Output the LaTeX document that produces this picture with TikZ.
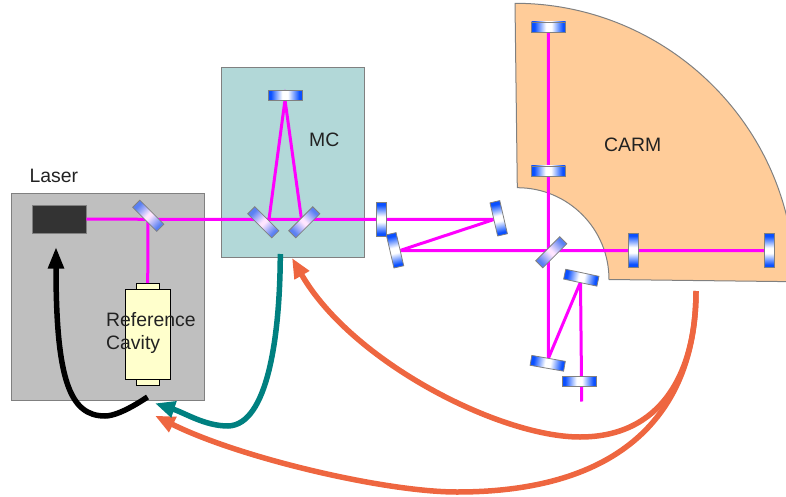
\documentclass[tikz,border=0pt]{standalone}
\usepackage{fontspec}
\setmainfont{Liberation Sans}
\usetikzlibrary{arrows.meta}
\definecolor{beamc}{HTML}{FF00FF}
\definecolor{mcfill}{HTML}{B2D8D8}
\definecolor{laserfill}{HTML}{BFBFBF}
\definecolor{carmfill}{HTML}{FFCC99}
\definecolor{edgec}{HTML}{808080}
\definecolor{mirblue}{HTML}{0A50FF}
\definecolor{bsblue}{HTML}{5A80F2}
\definecolor{cavfill}{HTML}{FFFFCC}
\definecolor{fbteal}{HTML}{008080}
\definecolor{fborange}{HTML}{EE6640}
\definecolor{txt}{HTML}{222222}
\pgfdeclarehorizontalshading{mirrorshade}{100bp}{color(0bp)=(mirblue);color(25bp)=(mirblue);color(29bp)=(mirblue);color(46bp)=(white);color(54bp)=(white);color(71bp)=(mirblue);color(75bp)=(mirblue);color(100bp)=(mirblue)}
\pgfdeclarehorizontalshading{splittershade}{100bp}{color(0bp)=(bsblue);color(25bp)=(bsblue);color(29bp)=(bsblue);color(48bp)=(white!90!magenta);color(52bp)=(white!90!magenta);color(71bp)=(bsblue);color(75bp)=(bsblue);color(100bp)=(bsblue)}
\tikzset{
  panel/.style={draw=edgec,line width=1pt},
  beam/.style={draw=beamc,line width=3pt},
  mirror/.style={draw=edgec,line width=.8pt,minimum width=34pt,minimum height=10pt,inner sep=0pt,outer sep=0pt,
    shading=mirrorshade},
  splitter/.style={draw=edgec,line width=.8pt,minimum width=34pt,minimum height=10pt,inner sep=0pt,outer sep=0pt,
    shading=splittershade},
  label/.style={text=txt,font=\fontsize{19.4}{22}\selectfont,inner sep=0pt,anchor=base west},
  cavpart/.style={draw=black,line width=.8pt,fill=cavfill},
  fbk/.style={line width=5.5pt,line cap=butt},
  headc/.style={-{Triangle[length=20pt,width=16pt]}},
}
% name, style, angle, position: the canvas turns, so the shading turns with the optic
\newcommand{\opticnode}[4]{\begin{scope}[transform canvas={shift={(#4)},rotate=#3}]\node[#2] (#1) at (0,0) {};\end{scope}}
\begin{document}
\begin{tikzpicture}[x=1pt,y=-1pt]
\useasboundingbox (0,0) rectangle (786,497);
\begin{scope}
\clip (0,0) rectangle (786,497);
% panels
\path[panel,fill=laserfill] (11,193.5) rectangle (204.5,400.5);
\path[panel,fill=mcfill] (221.5,67.5) rectangle (364.5,257);
\path[panel,fill=carmfill] (515,3.3) .. controls (668,3.3) and (794.5,128) .. (794.5,281.7)
  -- (609,279.5) .. controls (609,228.7) and (568,187.7) .. (517.3,187.7) -- cycle;
% laser head and cavity
\node[draw=edgec,line width=.8pt,fill=black!80,minimum width=54pt,minimum height=28pt,inner sep=0pt] (laser) at (59,219) {};
\node[cavpart,minimum width=22.7pt,minimum height=6pt,inner sep=0pt] (captop) at (147.7,286.5) {};
\node[cavpart,minimum width=22.7pt,minimum height=6pt,inner sep=0pt] (capbot) at (147.7,382) {};
\node[cavpart,minimum width=45pt,minimum height=90pt,inner sep=0pt] (cavity) at (147.8,334.3) {};
% beam points
\coordinate (bLS) at (148,219.3);
\coordinate (bM1) at (269,219.3);
\coordinate (bM2) at (301.5,219.3);
\coordinate (bMT) at (285,100);
\coordinate (bA) at (381,219.3);
\coordinate (bB) at (494,219.5);
\coordinate (bC) at (400,250.5);
\coordinate (bS) at (548,250.5);
\coordinate (bE) at (769,250.5);
\coordinate (bN) at (548.3,27);
\coordinate (bD) at (548.3,358.5);
\coordinate (bF) at (580.5,282);
\coordinate (bG) at (581.7,401.5);
\draw[beam] (laser.east) -- (bLS) -- (bM1) -- (bM2) -- (bA) -- (bB) -- (bC) -- (bS) -- (bE);
\draw[beam] (bLS) -- (captop.north);
\draw[beam] (bM1) -- (bMT) -- (bM2);
\draw[beam] (bN) -- (bD) -- (bF);
\draw[beam] (bF) -- (bG);
% mirrors
\opticnode{bsL}{splitter}{-45}{148.3,215.8}
\opticnode{bsM1}{splitter}{-45}{263.3,222.3}
\opticnode{bsM2}{splitter}{45}{304.3,222.3}
\opticnode{bsC}{splitter}{45}{551.3,252.3}
\opticnode{mMT}{mirror}{0}{285,95.5}
\opticnode{mA}{mirror}{90}{381,219.3}
\opticnode{mB}{mirror}{-77}{498.7,218.3}
\opticnode{mC}{mirror}{-77}{395,250.3}
\opticnode{mN1}{mirror}{0}{548.7,27}
\opticnode{mN2}{mirror}{0}{548.3,171}
\opticnode{mE1}{mirror}{90}{633,250}
\opticnode{mE2}{mirror}{90}{769.3,250.5}
\opticnode{mS1}{mirror}{-12}{581.3,277.7}
\opticnode{mS2}{mirror}{-10}{547.7,363.3}
\opticnode{mS3}{mirror}{0}{579.3,381.7}
% labels
\node[label] (tLaser) at (29.3,182.7) {Laser};
\node[label] (tRef) at (106,326.7) {Reference};
\node[label] (tCav) at (106,349) {Cavity};
\node[label] (tMC) at (309,147) {MC};
\node[label] (tCARM) at (604,151.7) {CARM};
% feedback arrows
\coordinate (fbMC) at (280.3,254);
\coordinate (fbMCend) at (155,403.3);
\coordinate (fbCav) at (147.5,397);
\coordinate (fbLaser) at (56,246.7);
\coordinate (fbCarm) at (696,291);
\coordinate (fbCarmEndA) at (292,258);
\coordinate (fbCarmEndB) at (155,415.7);
\draw[fbk,draw=fborange,headc] (fbCarm) .. controls (696,405) and (630,492) .. (457,492)
  .. controls (385,492) and (240,458) .. (fbCarmEndB);
\draw[fbk,draw=fborange,headc] (fbCarm) .. controls (696,375) and (660,437) .. (580,437)
  .. controls (500,437) and (352,362) .. (fbCarmEndA);
\draw[fbk,draw=fbteal,headc] (fbMC) .. controls (280,335) and (268,425) .. (228,426)
  .. controls (205,426) and (185,413) .. (fbMCend);
\draw[fbk,draw=black,-{Triangle[length=22pt,width=15pt]}] (fbCav) .. controls (125,412) and (112,416) .. (105,416)
  .. controls (70,416) and (56,380) .. (fbLaser);
\end{scope}
\end{tikzpicture}
\end{document}
